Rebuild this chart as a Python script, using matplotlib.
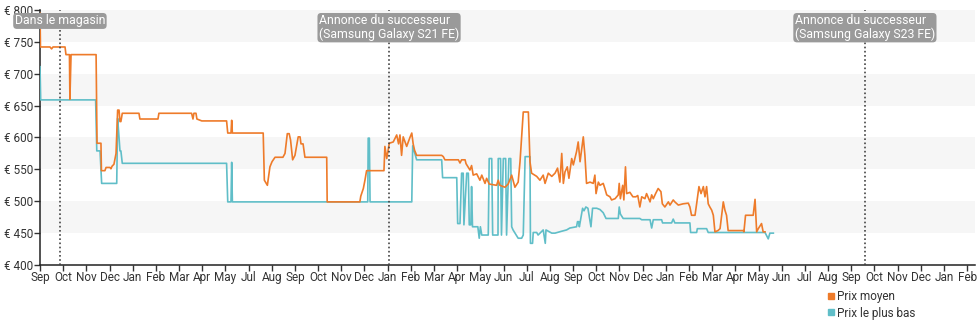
import matplotlib
matplotlib.use("Agg")
import matplotlib.pyplot as plt
from matplotlib.lines import Line2D

plt.rcParams['font.family'] = ['Roboto', 'DejaVu Sans']

# x positions are in month-index units along the axis (0 = first "Sep" tick)
month_labels = ["Sep", "Oct", "Nov", "Dec", "Jan", "Feb", "Mar", "Apr", "May", "Jul",
                "Aug", "Sep", "Oct", "Nov", "Dec", "Jan", "Feb", "Mar", "Apr", "May",
                "Jun", "Jul", "Aug", "Sep", "Oct", "Nov", "Dec", "Jan", "Feb", "Mar",
                "Apr", "May", "Jun", "Jul", "Aug", "Sep", "Oct", "Nov", "Dec", "Jan", "Feb"]

avg_t = [0.00, 0.02, 0.43, 0.50, 0.56, 1.08, 1.12, 1.27, 1.29, 1.34, 2.42, 2.46, 2.63, 2.65,
         2.80, 2.85, 3.02, 3.06, 3.11, 3.19, 3.28, 3.35, 3.41, 3.45, 3.49, 3.55, 4.27, 4.31,
         5.09, 5.13, 6.54, 6.60, 6.64, 6.73, 6.77, 6.98, 8.05, 8.10, 8.24, 8.27, 8.30, 9.63,
         9.68, 9.81, 9.92, 10.01, 10.14, 10.48, 10.57, 10.67, 10.75, 10.81, 10.90, 11.00,
         11.14, 11.22, 11.26, 11.35, 11.43, 12.37, 12.39, 13.80, 13.84, 13.95, 14.02, 14.09,
         14.84, 14.88, 14.96, 15.07, 15.24, 15.39, 15.47, 15.53, 15.60, 15.67, 15.82, 15.96,
         16.04, 16.10, 16.16, 16.25, 17.33, 17.40, 17.47, 18.05, 18.12, 18.19, 18.34, 18.38,
         18.55, 18.62, 18.69, 18.84, 18.98, 19.06, 19.20, 19.27, 19.38, 19.70, 19.77, 19.84,
         20.06, 20.20, 20.35, 20.49, 20.63, 20.71, 20.85, 21.07, 21.14, 21.21, 21.43, 21.57,
         21.71, 21.79, 21.93, 22.08, 22.22, 22.33, 22.43, 22.51, 22.58, 22.65, 22.75, 22.82,
         22.94, 23.01, 23.15, 23.22, 23.30, 23.44, 23.51, 23.58, 23.73, 23.87, 23.94, 23.99,
         24.09, 24.16, 24.30, 24.37, 24.45, 24.59, 24.66, 24.81, 24.95, 24.99, 25.04, 25.14,
         25.19, 25.26, 25.31, 25.45, 25.58, 25.71, 25.79, 25.88, 25.96, 26.10, 26.17, 26.32,
         26.39, 26.46, 26.56, 26.67, 26.79, 26.85, 26.96, 27.11, 27.18, 27.32, 27.39, 27.54,
         27.75, 27.97, 28.04, 28.11, 28.26, 28.33, 28.43, 28.52, 28.62, 28.69, 28.76, 28.83,
         28.90, 28.98, 29.05, 29.12, 29.25, 29.34, 29.48, 29.55, 29.62, 29.69, 30.34, 30.37,
         30.44, 30.77, 30.85, 30.92, 30.99, 31.13, 31.20, 31.28]
avg_p = [795, 742, 742, 739, 742, 742, 730, 730, 660, 730, 730, 591, 591, 548,
         548, 553, 553, 551, 555, 558, 575, 643, 643, 625, 625, 638, 638, 629,
         629, 638, 638, 629, 638, 638, 629, 626, 626, 607, 607, 627, 607, 607,
         533, 525, 554, 562, 569, 569, 575, 606, 606, 596, 565, 572,
         601, 601, 590, 590, 569, 569, 499, 499, 508, 520, 533, 548,
         548, 586, 567, 591, 593, 604, 590, 604, 572, 601, 586, 600,
         607, 590, 580, 572, 572, 570, 565, 565, 560, 565, 565, 559,
         549, 556, 541, 543, 533, 541, 528, 536, 527, 525, 533, 525,
         522, 527, 541, 522, 530, 562, 640, 640, 562, 544, 539, 533,
         541, 528, 544, 539, 544, 552, 530, 575, 528, 546, 554, 536,
         567, 557, 578, 593, 562, 601, 572, 528, 530, 528, 541, 512,
         530, 525, 528, 520, 510, 507, 502, 504, 510, 528, 504, 525,
         502, 554, 512, 514, 507, 507, 509, 491, 507, 504, 512, 499,
         510, 504, 512, 520, 515, 496, 491, 499, 494, 502, 499, 494,
         496, 497, 491, 478, 478, 496, 523, 512, 523, 507, 523, 496,
         491, 486, 478, 452, 454, 457, 499, 486, 478, 454, 454, 452,
         478, 478, 503, 452, 457, 465, 452, 452]

low_t = [0.00, 0.03, 2.40, 2.45, 2.59, 2.66, 3.31, 3.35, 3.41, 3.45, 3.49, 3.55, 8.05, 8.10,
         8.24, 8.27, 8.30, 14.14, 14.16, 14.21, 14.24, 16.04, 16.08, 16.25, 17.33, 17.37,
         17.98, 18.02, 18.12, 18.19, 18.26, 18.29, 18.41, 18.48, 18.52, 18.59, 18.62, 18.66,
         18.89, 18.95, 19.00, 19.06, 19.34, 19.38, 19.49, 19.53, 19.76, 19.77, 19.87, 19.91,
         19.99, 20.09, 20.13, 20.23, 20.31, 20.35, 20.41, 20.63, 20.78, 20.85, 20.93, 21.14,
         21.16, 21.25, 21.28, 21.43, 21.49, 21.71, 21.80, 21.83, 22.08, 22.22, 22.51, 22.72,
         22.86, 23.15, 23.19, 23.24, 23.27, 23.41, 23.47, 23.55, 23.64, 23.77, 23.84, 24.02,
         24.16, 24.30, 24.42, 24.95, 24.99, 25.04, 25.16, 25.88, 25.96, 26.32, 26.39, 26.46,
         26.82, 26.86, 27.25, 27.32, 27.39, 28.04, 28.07, 28.33, 28.36, 28.76, 28.83, 31.28,
         31.42, 31.49, 31.64]
low_p = [711, 659, 659, 579, 579, 528, 528, 630, 600, 579, 579, 559.5, 559.5, 499,
         499, 561, 499, 499, 599, 599, 499, 499, 587, 565, 565, 537,
         537, 465, 465, 544, 544, 463, 544, 544, 463, 463, 523, 460,
         460, 442, 460, 447, 447, 567, 567, 447, 447, 567, 567, 447,
         567, 567, 447, 567, 567, 460, 455, 442, 442, 447, 570, 570,
         434, 434, 451, 451, 447, 455, 434, 455, 450, 450, 453, 455,
         458, 460, 468, 468, 460, 489, 485, 491, 489, 460, 489, 489,
         487, 482, 473, 473, 491, 480, 473, 473, 471, 471, 458, 471,
         471, 466, 466, 472, 466, 466, 451, 451, 457, 457, 451, 451,
         441, 450, 450]

events = [0.86, 15.06, 35.59]
event_labels = ["Dans le magasin",
                "Annonce du successeur\n(Samsung Galaxy S21 FE)",
                "Annonce du successeur\n(Samsung Galaxy S23 FE)"]

y_ticks = [400, 450, 500, 550, 600, 650, 700, 750, 800]
bands = [(450, 500), (550, 600), (650, 700), (750, 800)]

c_avg = "#ee7b2a"
c_low = "#60bec8"
txt = "#333333"

fig = plt.figure(figsize=(9.8, 3.25), dpi=100)
ax = fig.add_axes([40/980, 1-265/325, 935/980, 255/325])

for lo, hi in bands:
    ax.axhspan(lo, hi, color="#f6f6f6", zorder=0, lw=0)

ax.plot(low_t, low_p, color=c_low, lw=1.2, zorder=3)
ax.plot(avg_t, avg_p, color=c_avg, lw=1.2, zorder=4)

for ev, lab in zip(events, event_labels):
    ax.axvline(ev, color="#444444", lw=1.2, ls=(0, (1, 1.5)), zorder=5)
    ax.annotate(lab, xy=(ev, 793), ha="center", va="top", color="white",
                fontsize=8.8, zorder=6, annotation_clip=False, linespacing=1.0,
                multialignment="left",
                bbox=dict(boxstyle="round,pad=0.12,rounding_size=0.3",
                          fc="#9a9a9a", ec="none"))

ax.set_xlim(0, 40.34)
ax.set_ylim(400, 800)
ax.set_xticks(range(len(month_labels)))
ax.set_xticklabels(month_labels)
ax.set_yticks(y_ticks)
ax.set_yticklabels([f"€ {v}" for v in y_ticks])
ax.tick_params(axis="both", colors=txt, labelsize=8.5, length=4, width=1, pad=1)
ax.tick_params(axis="x", pad=0.5)
for s in ["top", "right"]:
    ax.spines[s].set_visible(False)
for s in ["left", "bottom"]:
    ax.spines[s].set_color("#222222")
    ax.spines[s].set_linewidth(1.1)

handles = [Line2D([], [], marker="s", ls="none", color=c_avg, markersize=5),
           Line2D([], [], marker="s", ls="none", color=c_low, markersize=5)]
fig.legend(handles, ["Prix moyen", "Prix le plus bas"], loc="upper left",
           bbox_to_anchor=(827/980, 1-290/325), frameon=False, fontsize=8.5,
           handlelength=0.6, handletextpad=0.25, labelspacing=0.3,
           borderpad=0, borderaxespad=0, labelcolor=txt)

fig.savefig("out.png", dpi=100, facecolor="white")
